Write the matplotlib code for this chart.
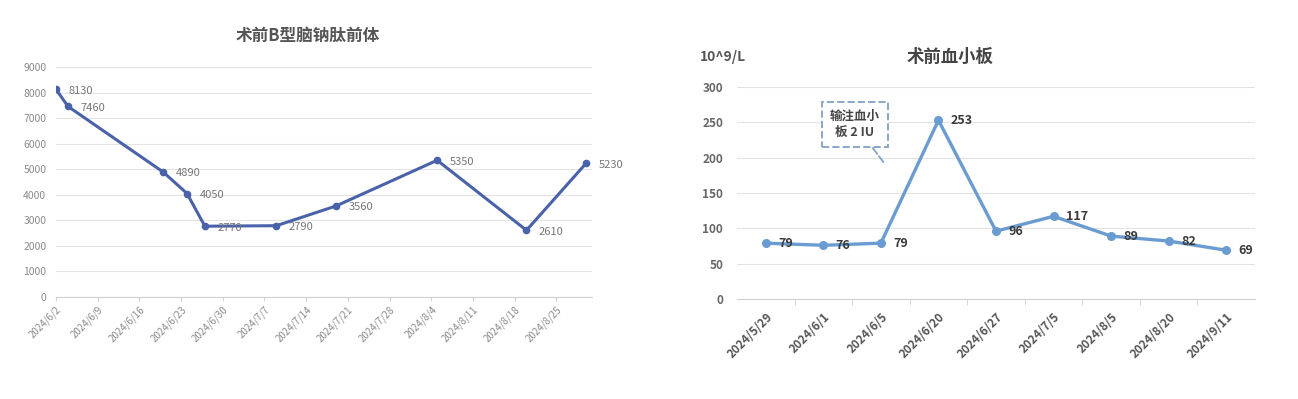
import matplotlib
matplotlib.use("Agg")
import matplotlib.pyplot as plt
import matplotlib.dates as mdates
from datetime import datetime, timedelta

plt.rcParams['font.family'] = ['Noto Sans CJK SC', 'DejaVu Sans']

# left chart: NT-proBNP
bnp_dates = ["2024-06-02", "2024-06-04", "2024-06-20", "2024-06-24", "2024-06-27",
             "2024-07-09", "2024-07-19", "2024-08-05", "2024-08-20", "2024-08-30"]
bnp_values = [8130, 7460, 4890, 4050, 2770, 2790, 3560, 5350, 2610, 5230]
bnp_title = "术前B型脑钠肽前体"

# right chart: platelets
plt_labels = ["2024/5/29", "2024/6/1", "2024/6/5", "2024/6/20", "2024/6/27",
              "2024/7/5", "2024/8/5", "2024/8/20", "2024/9/11"]
plt_values = [79, 76, 79, 253, 96, 117, 89, 82, 69]
plt_title = "术前血小板"
plt_unit = "10^9/L"
note_text = "输注血小\n板 2 IU"

W, H = 1298, 399
fig = plt.figure(figsize=(W / 100, H / 100), dpi=100)
fig.patch.set_facecolor("white")

grid_c = "#e3e3e3"
tick_c = "#8a8a8a"

# ---------- left ----------
ax1 = fig.add_axes([56 / W, 1 - 297 / H, 536 / W, 230 / H])
d = [datetime.fromisoformat(s) for s in bnp_dates]
ax1.plot(d, bnp_values, color="#4A62AA", lw=2.2, marker="o", ms=4.5, zorder=3)
for x, y in zip(d, bnp_values):
    ax1.annotate(str(y), (mdates.date2num(x), y), xytext=(9, -1), textcoords="offset points",
                 fontsize=8, color="#777777", va="center", ha="left")
start = datetime(2024, 6, 2)
ax1.set_xlim(start, datetime(2024, 8, 31))
ticks = [start + timedelta(days=7 * i) for i in range(13)]
ax1.set_xticks(ticks)
ax1.set_xticklabels([f"{t.year}/{t.month}/{t.day}" for t in ticks], rotation=45,
                    ha="right", rotation_mode="anchor", fontsize=7, color=tick_c)
ax1.set_ylim(0, 9000)
ax1.set_yticks(range(0, 9001, 1000))
ax1.tick_params(axis="y", length=0, labelsize=7.5, labelcolor=tick_c, pad=7)
ax1.tick_params(axis="x", length=3, color="#d0d0d0", pad=2)
ax1.grid(axis="y", color=grid_c, lw=0.8)
ax1.set_axisbelow(True)
for s in ["top", "right", "left"]:
    ax1.spines[s].set_visible(False)
ax1.spines["bottom"].set_color("#d0d0d0")
fig.text(308 / W, 1 - 36 / H, bnp_title, ha="center", va="center", fontsize=12,
         fontweight="bold", color="#555555")

# ---------- right ----------
ax2 = fig.add_axes([737 / W, 1 - 299 / H, 518 / W, 212 / H])
xs = list(range(len(plt_values)))
ax2.plot(xs, plt_values, color="#6A9BD1", lw=2.4, marker="o", ms=5.5, zorder=3)
for x, y in zip(xs, plt_values):
    ax2.annotate(str(y), (x, y), xytext=(9, 0), textcoords="offset points",
                 fontsize=9, fontweight="bold", color="#3a3a3a", va="center", ha="left")
ax2.set_xlim(-0.5, len(plt_values) - 0.5)
ax2.set_xticks(xs)
ax2.set_xticklabels(plt_labels, rotation=45, ha="right", rotation_mode="anchor",
                    fontsize=8.5, fontweight="bold", color="#555555")
ax2.set_xticks([x + 0.5 for x in xs[:-1]], minor=True)
ax2.tick_params(axis="x", which="major", length=0, pad=8)
ax2.tick_params(axis="x", which="minor", length=4, color="#d0d0d0")
ax2.set_ylim(0, 300)
ax2.set_yticks(range(0, 301, 50))
ax2.tick_params(axis="y", length=0, labelsize=8.5, labelcolor="#666666", pad=10)
for lab in ax2.get_yticklabels():
    lab.set_fontweight("bold")
ax2.grid(axis="y", color=grid_c, lw=0.8)
ax2.set_axisbelow(True)
for s in ["top", "right", "left"]:
    ax2.spines[s].set_visible(False)
ax2.spines["bottom"].set_color("#d0d0d0")
fig.text(950 / W, 1 - 57 / H, plt_title, ha="center", va="center", fontsize=12.5,
         fontweight="bold", color="#444444")
fig.text(700 / W, 1 - 57 / H, plt_unit, ha="left", va="center", fontsize=10,
         fontweight="bold", color="#555555")

# dashed callout box
ax2.annotate(note_text, xy=(2.06, 192), xytext=(1.55, 247), textcoords="data",
             ha="center", va="center", fontsize=9, fontweight="bold", color="#444444",
             linespacing=1.35,
             bbox=dict(boxstyle="square,pad=0.65", fc="white", ec="#8aa6c8", ls="--", lw=1.4),
             arrowprops=dict(arrowstyle="-", ls="--", color="#8aa6c8", lw=1.4,
                             shrinkA=0, shrinkB=0))

fig.savefig("out.png", dpi=100, facecolor="white")
